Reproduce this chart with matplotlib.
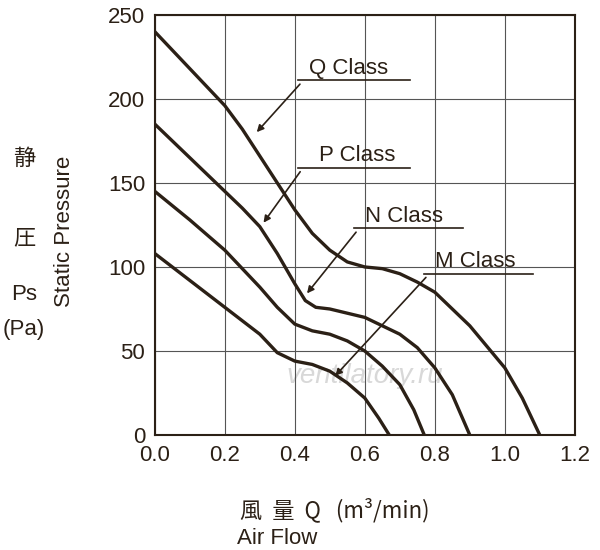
import matplotlib
matplotlib.use('Agg')
import matplotlib.pyplot as plt

plt.rcParams['font.family'] = ['Liberation Sans', 'Noto Sans CJK JP']

q_x = [0, 0.1, 0.2, 0.25, 0.3, 0.35, 0.4, 0.45, 0.5, 0.55, 0.6, 0.65, 0.7, 0.75, 0.8, 0.9, 1.0, 1.05, 1.1]
q_y = [240, 218, 196, 182, 166, 150, 134, 120, 110, 103, 100, 99, 96, 91, 85, 65, 40, 22, 0]
p_x = [0, 0.1, 0.2, 0.25, 0.3, 0.35, 0.4, 0.43, 0.46, 0.5, 0.6, 0.7, 0.75, 0.8, 0.85, 0.9]
p_y = [185, 165, 145, 135, 124, 108, 90, 80, 76, 75, 70, 60, 52, 40, 24, 0]
n_x = [0, 0.1, 0.2, 0.3, 0.35, 0.4, 0.45, 0.5, 0.55, 0.6, 0.65, 0.7, 0.74, 0.77]
n_y = [145, 128, 110, 88, 76, 66, 62, 60, 56, 50, 41, 30, 15, 0]
m_x = [0, 0.1, 0.2, 0.3, 0.35, 0.4, 0.45, 0.5, 0.55, 0.6, 0.64, 0.67]
m_y = [108, 92, 76, 60, 49, 44, 42, 38, 31, 22, 10, 0]

ink = '#2b2016'
fig = plt.figure(figsize=(6, 5.5), dpi=100)
ax = fig.add_axes([0.258, 0.209, 0.7, 0.764])
for xs, ys in [(q_x, q_y), (p_x, p_y), (n_x, n_y), (m_x, m_y)]:
    ax.plot(xs, ys, color=ink, lw=2.4, solid_capstyle='round', solid_joinstyle='round')

ax.set_xlim(0, 1.2)
ax.set_ylim(0, 250)
ax.set_xticks([0, 0.2, 0.4, 0.6, 0.8, 1.0, 1.2])
ax.set_xticklabels(['0.0', '0.2', '0.4', '0.6', '0.8', '1.0', '1.2'])
ax.set_yticks([0, 50, 100, 150, 200, 250])
ax.grid(True, color='#555555', lw=0.8)
ax.tick_params(labelsize=16, colors=ink, length=0, pad=7)
for s in ax.spines.values():
    s.set_color(ink)
    s.set_linewidth(1.5)

# class labels with underline and leader line
labels = [('Q Class', 0.44, 211, 0.41, 0.73, 0.286, 179),
          ('P Class', 0.47, 159, 0.41, 0.73, 0.306, 125),
          ('N Class', 0.60, 123, 0.57, 0.88, 0.43, 83),
          ('M Class', 0.80, 96, 0.77, 1.08, 0.51, 34)]
for txt, tx, ty, u0, u1, ax_x, ax_y in labels:
    ax.text(tx, ty + 1, txt, fontsize=16, color=ink, va='bottom')
    ax.plot([u0, u1], [ty, ty], color=ink, lw=1.2)
    ax.annotate('', xy=(ax_x, ax_y), xytext=(u0 + 0.01, ty - 1),
                arrowprops=dict(arrowstyle='-|>', color=ink, lw=1.2))

ax.text(0.6, 35, 'ventilatory.ru', fontsize=20, style='italic', color='#d8d8d8',
        ha='center', va='center', zorder=0)

fig.text(0.108, 0.58, 'Static Pressure', rotation=90, fontsize=16, color=ink,
         ha='center', va='center')
fig.text(0.04, 0.70, '静', fontsize=16, color=ink, ha='center', family=['Noto Sans CJK JP'])
fig.text(0.04, 0.555, '圧', fontsize=16, color=ink, ha='center', family=['Noto Sans CJK JP'])
fig.text(0.04, 0.455, 'Ps', fontsize=16, color=ink, ha='center')
fig.text(0.04, 0.39, '(Pa)', fontsize=16, color=ink, ha='center')
fig.text(0.40, 0.06, '風  量  Q   (m³/min)', fontsize=16, color=ink,
         family=['Noto Sans CJK JP', 'Liberation Sans'])
fig.text(0.395, 0.01, 'Air Flow', fontsize=16, color=ink)

fig.savefig('out.png', dpi=100)
